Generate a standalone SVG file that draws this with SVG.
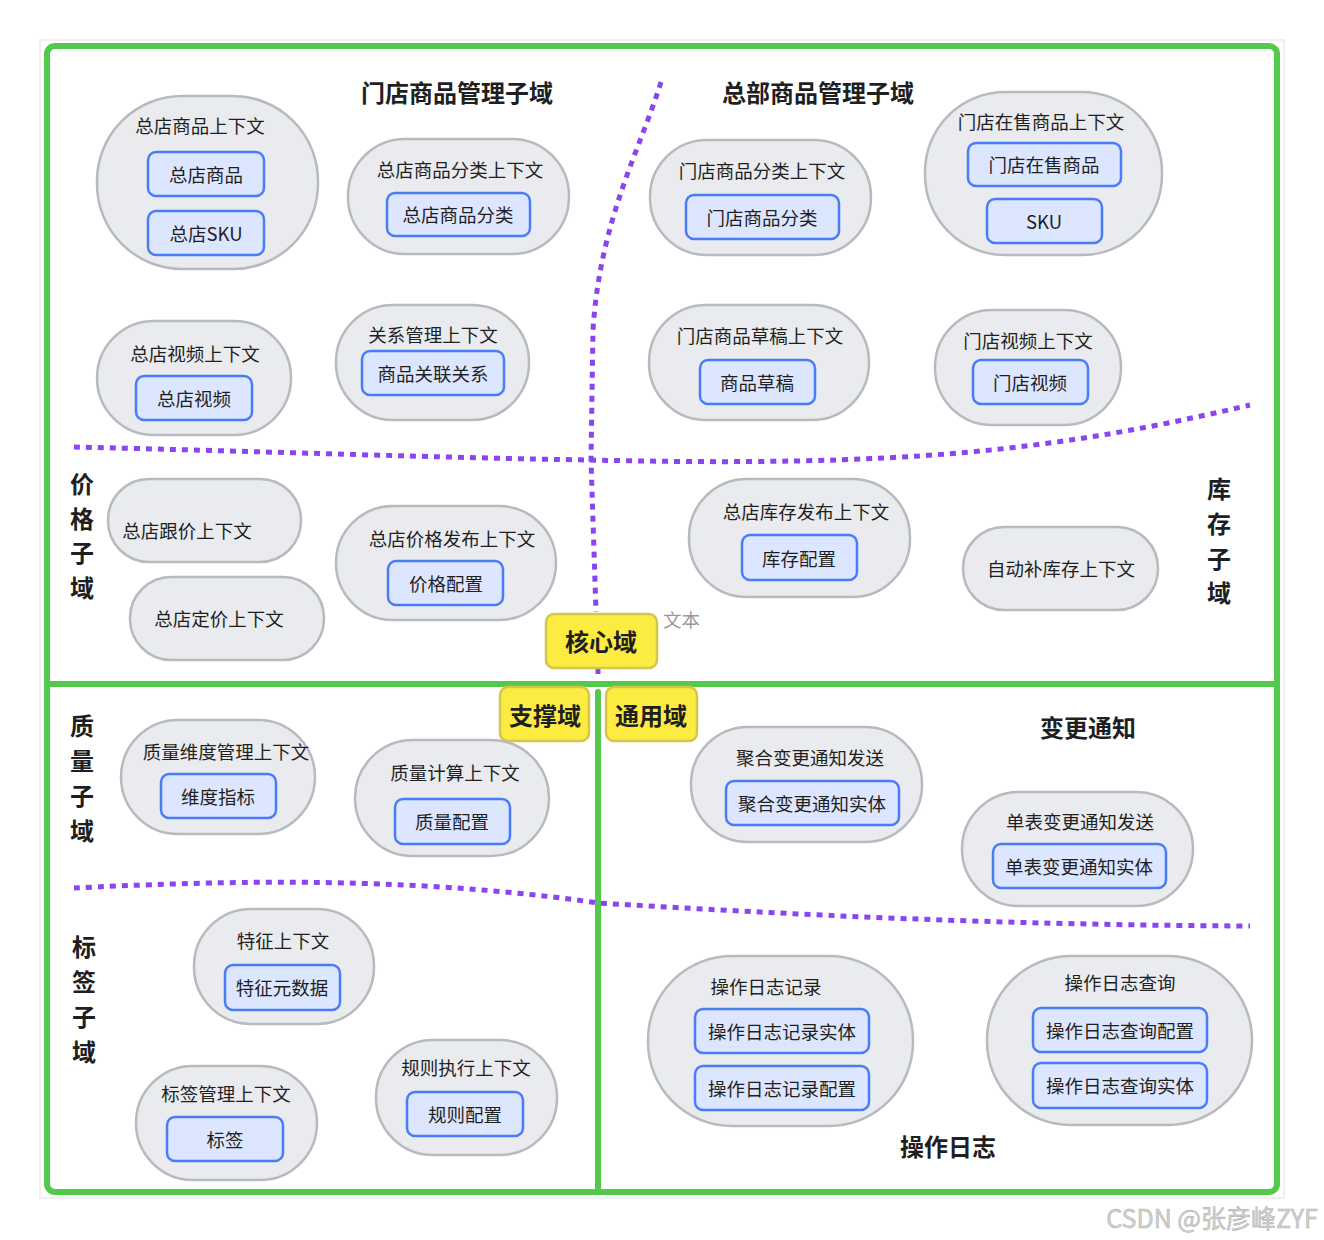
<svg xmlns="http://www.w3.org/2000/svg" width="1324" height="1240" viewBox="0 0 1324 1240">
<style>
text{font-family:"Noto Sans CJK SC","Liberation Sans",sans-serif;fill:#1f1f1f;text-anchor:middle;dominant-baseline:central}
.ctx{fill:#e9ebee;stroke:#b7babe;stroke-width:2.5}
.ent{fill:#dce6ff;stroke:#4a7cf7;stroke-width:2.5}
.t{font-size:18.5px}
.h{font-size:24px;font-weight:bold}
.dom{fill:#fcec42;stroke:#d4c64a;stroke-width:2.5}
.dash{fill:none;stroke:#8a45f0;stroke-width:5;stroke-dasharray:6 6}
.green{fill:none;stroke:#52c94a;stroke-width:6}
</style>
<rect x="0" y="0" width="1324" height="1240" fill="#ffffff"/>
<rect x="40" y="40" width="1244" height="1158" fill="#ffffff" stroke="#f0f0f0" stroke-width="2"/>

<g id="frame">
<rect class="green" x="47" y="46" width="1230" height="1146" rx="8"/>
<line class="green" x1="47" y1="684" x2="1277" y2="684" stroke-width="4"/>
<line class="green" x1="598" y1="692" x2="598" y2="1192" stroke-width="5" stroke-linecap="round"/>
</g>

<g id="connectors">
<path class="dash" d="M661,82 C640,150 600,220 593,330 L591,460 L596,612"/>
<path class="dash" d="M598,668 L598,680"/>
<path class="dash" d="M74,447 C250,451 450,458 590,460"/>
<path class="dash" d="M590,460 C900,467 1050,452 1250,405"/>
<path class="dash" d="M74,888 C200,882 400,874 598,903 C800,915 1000,925 1250,926"/>
</g>

<g id="labels">
<text class="h" x="457" y="91">门店商品管理子域</text>
<text class="h" x="818" y="91">总部商品管理子域</text>
<text class="h" x="82" y="482">价</text><text class="h" x="82" y="517">格</text><text class="h" x="82" y="551">子</text><text class="h" x="82" y="586">域</text>
<text class="h" x="1219" y="487">库</text><text class="h" x="1219" y="522">存</text><text class="h" x="1219" y="557">子</text><text class="h" x="1219" y="591">域</text>
<text class="h" x="82" y="724">质</text><text class="h" x="82" y="759">量</text><text class="h" x="82" y="794">子</text><text class="h" x="82" y="829">域</text>
<text class="h" x="84" y="945">标</text><text class="h" x="84" y="980">签</text><text class="h" x="84" y="1015">子</text><text class="h" x="84" y="1050">域</text>
<text class="h" x="1088" y="726">变更通知</text>
<text class="h" x="948" y="1145">操作日志</text>
<text class="t" x="663" y="619" style="text-anchor:start;fill:#999999">文本</text>
</g>

<g id="n1">
<rect class="ctx" x="97" y="96" width="221" height="173" rx="85"/>
<text class="t" x="200" y="125">总店商品上下文</text>
<rect class="ent" x="148" y="152" width="116" height="44" rx="8"/><text class="t" x="206" y="174">总店商品</text>
<rect class="ent" x="148" y="211" width="116" height="44" rx="8"/><text class="t" x="206" y="233">总店SKU</text>
</g>
<g id="n2">
<rect class="ctx" x="348" y="139" width="221" height="115" rx="57"/>
<text class="t" x="460" y="169">总店商品分类上下文</text>
<rect class="ent" x="387" y="193" width="143" height="43" rx="8"/><text class="t" x="458" y="214">总店商品分类</text>
</g>
<g id="n3">
<rect class="ctx" x="650" y="140" width="221" height="115" rx="57"/>
<text class="t" x="762" y="170">门店商品分类上下文</text>
<rect class="ent" x="686" y="195" width="153" height="44" rx="8"/><text class="t" x="762" y="217">门店商品分类</text>
</g>
<g id="n4">
<rect class="ctx" x="925" y="92" width="237" height="163" rx="80"/>
<text class="t" x="1041" y="121">门店在售商品上下文</text>
<rect class="ent" x="968" y="143" width="153" height="43" rx="8"/><text class="t" x="1044" y="164">门店在售商品</text>
<rect class="ent" x="987" y="199" width="115" height="44" rx="8"/><text class="t" x="1044" y="221">SKU</text>
</g>
<g id="n5">
<rect class="ctx" x="97" y="321" width="194" height="114" rx="57"/>
<text class="t" x="195" y="353">总店视频上下文</text>
<rect class="ent" x="136" y="376" width="116" height="44" rx="8"/><text class="t" x="194" y="398">总店视频</text>
</g>
<g id="n6">
<rect class="ctx" x="336" y="305" width="193" height="115" rx="57"/>
<text class="t" x="433" y="334">关系管理上下文</text>
<rect class="ent" x="362" y="351" width="142" height="44" rx="8"/><text class="t" x="433" y="373">商品关联关系</text>
</g>
<g id="n7">
<rect class="ctx" x="649" y="305" width="220" height="115" rx="57"/>
<text class="t" x="760" y="335">门店商品草稿上下文</text>
<rect class="ent" x="700" y="360" width="115" height="44" rx="8"/><text class="t" x="757" y="382">商品草稿</text>
</g>
<g id="n8">
<rect class="ctx" x="935" y="310" width="186" height="115" rx="57"/>
<text class="t" x="1028" y="340">门店视频上下文</text>
<rect class="ent" x="973" y="360" width="115" height="44" rx="8"/><text class="t" x="1030" y="382">门店视频</text>
</g>
<g id="n9">
<rect class="ctx" x="108" y="479" width="193" height="83" rx="41"/>
<text class="t" x="187" y="530">总店跟价上下文</text>
</g>
<g id="n10">
<rect class="ctx" x="130" y="577" width="194" height="83" rx="41"/>
<text class="t" x="219" y="618">总店定价上下文</text>
</g>
<g id="n11">
<rect class="ctx" x="336" y="506" width="220" height="114" rx="57"/>
<text class="t" x="452" y="538">总店价格发布上下文</text>
<rect class="ent" x="388" y="561" width="115" height="44" rx="8"/><text class="t" x="446" y="583">价格配置</text>
</g>
<g id="n12">
<rect class="ctx" x="689" y="479" width="221" height="118" rx="58"/>
<text class="t" x="806" y="511">总店库存发布上下文</text>
<rect class="ent" x="742" y="535" width="115" height="45" rx="8"/><text class="t" x="799" y="558">库存配置</text>
</g>
<g id="n13">
<rect class="ctx" x="963" y="527" width="195" height="83" rx="41"/>
<text class="t" x="1061" y="568">自动补库存上下文</text>
</g>

<g id="core">
<rect class="dom" x="546" y="614" width="111" height="54" rx="8"/><text class="h" x="601" y="640">核心域</text>
</g>
<g id="support">
<rect class="dom" x="500" y="687" width="89" height="54" rx="8"/><text class="h" x="545" y="714">支撑域</text>
</g>
<g id="common">
<rect class="dom" x="606" y="687" width="91" height="54" rx="8"/><text class="h" x="651" y="714">通用域</text>
</g>

<g id="n14">
<rect class="ctx" x="121" y="720" width="194" height="114" rx="57"/>
<text class="t" x="226" y="751">质量维度管理上下文</text>
<rect class="ent" x="161" y="774" width="115" height="44" rx="8"/><text class="t" x="218" y="796">维度指标</text>
</g>
<g id="n15">
<rect class="ctx" x="355" y="740" width="194" height="116" rx="58"/>
<text class="t" x="455" y="772">质量计算上下文</text>
<rect class="ent" x="395" y="799" width="115" height="45" rx="8"/><text class="t" x="452" y="821">质量配置</text>
</g>
<g id="n16">
<rect class="ctx" x="691" y="727" width="231" height="115" rx="57"/>
<text class="t" x="810" y="757">聚合变更通知发送</text>
<rect class="ent" x="726" y="781" width="173" height="44" rx="8"/><text class="t" x="812" y="803">聚合变更通知实体</text>
</g>
<g id="n17">
<rect class="ctx" x="962" y="792" width="231" height="114" rx="57"/>
<text class="t" x="1080" y="821">单表变更通知发送</text>
<rect class="ent" x="993" y="844" width="173" height="44" rx="8"/><text class="t" x="1079" y="866">单表变更通知实体</text>
</g>
<g id="n18">
<rect class="ctx" x="194" y="909" width="180" height="115" rx="57"/>
<text class="t" x="283" y="940">特征上下文</text>
<rect class="ent" x="225" y="965" width="115" height="45" rx="8"/><text class="t" x="282" y="987">特征元数据</text>
</g>
<g id="n19">
<rect class="ctx" x="136" y="1066" width="181" height="114" rx="57"/>
<text class="t" x="226" y="1093">标签管理上下文</text>
<rect class="ent" x="167" y="1117" width="116" height="44" rx="8"/><text class="t" x="225" y="1139">标签</text>
</g>
<g id="n20">
<rect class="ctx" x="376" y="1040" width="181" height="115" rx="57"/>
<text class="t" x="466" y="1067">规则执行上下文</text>
<rect class="ent" x="407" y="1092" width="116" height="44" rx="8"/><text class="t" x="465" y="1114">规则配置</text>
</g>
<g id="n21">
<rect class="ctx" x="648" y="956" width="265" height="170" rx="84"/>
<text class="t" x="766" y="986">操作日志记录</text>
<rect class="ent" x="695" y="1009" width="174" height="44" rx="8"/><text class="t" x="782" y="1031">操作日志记录实体</text>
<rect class="ent" x="695" y="1066" width="174" height="44" rx="8"/><text class="t" x="782" y="1088">操作日志记录配置</text>
</g>
<g id="n22">
<rect class="ctx" x="987" y="956" width="265" height="169" rx="84"/>
<text class="t" x="1120" y="982">操作日志查询</text>
<rect class="ent" x="1033" y="1008" width="174" height="44" rx="8"/><text class="t" x="1120" y="1030">操作日志查询配置</text>
<rect class="ent" x="1033" y="1063" width="174" height="45" rx="8"/><text class="t" x="1120" y="1085">操作日志查询实体</text>
</g>

<text x="1212" y="1217" style="font-size:25px;fill:#d0d0d0;stroke:#b0b0b0;stroke-width:0.5">CSDN @张彦峰ZYF</text>
</svg>
